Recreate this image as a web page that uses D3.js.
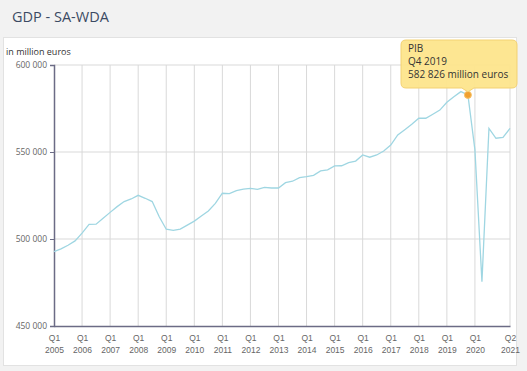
<!DOCTYPE html>
<html><head><meta charset="utf-8">
<script src="https://cdn.jsdelivr.net/npm/d3@7"></script>
<style>
html,body{margin:0;padding:0;background:#f2f2f2;}
svg{display:block;font-family:"Open Sans",sans-serif;}
</style></head>
<body><svg id="c" width="527" height="371"></svg>
<script>
const title = "GDP - SA-WDA";
const unitLabel = "in million euros";
const seriesName = "PIB";
const years = d3.range(2005, 2022);
const quarters = ["Q1","Q2","Q3","Q4"];
const gdp = [
  492700, 494300, 496400, 498900,
  503400, 508400, 508500, 511900,
  515300, 518600, 521500, 523000,
  525100, 523400, 521500, 512800,
  505600, 505000, 505700, 508000,
  510300, 513200, 516100, 520500,
  526300, 526100, 527800, 528700,
  529100, 528500, 529700, 529300,
  529300, 532400, 533200, 535300,
  535800, 536600, 539100, 539700,
  542000, 542100, 543900, 544800,
  548300, 547000, 548300, 550600,
  554000, 559800, 562800, 565900,
  569400, 569400, 571700, 574100,
  578600, 581800, 584700, 582826,
  551200, 475500, 563600, 557900,
  558400, 563600
];
const yTicks = [450000, 500000, 550000, 600000];
const highlightIndex = 59;

const periods = [];
years.forEach(y => quarters.forEach(q => periods.push({q, y})));
const data = gdp.map((v, i) => ({i, v, q: periods[i].q, y: periods[i].y}));
const xTickIdx = d3.range(0, 61, 4).concat([gdp.length - 1]);

const svg = d3.select("#c");
// header & panel
svg.append("rect").attr("x",0).attr("y",0).attr("width",527).attr("height",371).attr("fill","#f2f2f2");
svg.append("text").attr("x",12).attr("y",22).attr("font-size",14.5).attr("fill","#3b4a63").text(title);
svg.append("rect").attr("x",3.5).attr("y",37.5).attr("width",513).attr("height",328)
  .attr("fill","#fff").attr("stroke","#e2e2e2");

const x = d3.scaleLinear().domain([0, gdp.length - 1]).range([54, 510]);
const y = d3.scaleLinear().domain([450000, 600000]).range([326, 65]);
const fmt = v => d3.format(",")(v).replace(/,/g, " ");

svg.append("text").attr("x",6).attr("y",55).attr("font-size",9).attr("fill","#333").text(unitLabel);

// grid
svg.append("g").selectAll("line").data(yTicks.slice(1)).join("line")
  .attr("x1",54).attr("x2",510).attr("y1",d=>y(d)).attr("y2",d=>y(d))
  .attr("stroke","#d9d9d9");
svg.append("g").selectAll("line").data(xTickIdx.slice(1)).join("line")
  .attr("x1",d=>x(d)).attr("x2",d=>x(d)).attr("y1",65).attr("y2",326)
  .attr("stroke","#d9d9d9");

// y axis
const ya = svg.append("g").attr("transform","translate(54,0)")
  .call(d3.axisLeft(y).tickValues(yTicks).tickFormat(fmt).tickSize(4));
ya.select(".domain").attr("stroke","#6b6b85").attr("stroke-width",1.5);
ya.selectAll(".tick line").attr("stroke","#6b6b85");
ya.selectAll("text").attr("font-size",8.5).attr("fill","#666").attr("font-family","Open Sans");

// x axis
const xa = svg.append("g").attr("transform","translate(0,326)")
  .call(d3.axisBottom(x).tickValues(xTickIdx).tickSize(0).tickFormat(""));
xa.select(".domain").attr("stroke","#6b6b85").attr("stroke-width",1.5);
const xt = xa.selectAll(".tick");
xt.append("text").attr("y",15).attr("font-size",8.5).attr("fill","#666").attr("text-anchor","middle")
  .text(d => periods[d].q);
xt.append("text").attr("y",27).attr("font-size",8.5).attr("fill","#666").attr("text-anchor","middle")
  .text(d => periods[d].y);

// line
svg.append("path").datum(data)
  .attr("d", d3.line().x(d=>x(d.i)).y(d=>y(d.v)))
  .attr("fill","none").attr("stroke","#9fd6e2").attr("stroke-width",1.3);

// highlight point
const hp = data[highlightIndex];
svg.append("circle").attr("cx",x(hp.i)).attr("cy",y(hp.v)).attr("r",3.5)
  .attr("fill","#f0a030").attr("stroke","#f7c36a").attr("stroke-width",1);

// tooltip
const px = x(hp.i), py = y(hp.v);
const bx = 401, by = 40, bw = 116, bh = 48, r = 5;
const tip = d3.path();
tip.moveTo(bx + r, by);
tip.lineTo(bx + bw - r, by); tip.quadraticCurveTo(bx+bw, by, bx+bw, by+r);
tip.lineTo(bx + bw, by + bh - r); tip.quadraticCurveTo(bx+bw, by+bh, bx+bw-r, by+bh);
tip.lineTo(px + 6, by + bh); tip.lineTo(px, py - 3); tip.lineTo(px - 6, by + bh);
tip.lineTo(bx + r, by + bh); tip.quadraticCurveTo(bx, by+bh, bx, by+bh-r);
tip.lineTo(bx, by + r); tip.quadraticCurveTo(bx, by, bx+r, by);
tip.closePath();
svg.append("path").attr("d", tip.toString()).attr("fill","#fde58c").attr("fill-opacity",0.95)
  .attr("stroke","#f3d173").attr("stroke-width",1);
const tl = [seriesName, hp.q + " " + hp.y, fmt(hp.v) + " million euros"];
svg.append("g").selectAll("text").data(tl).join("text")
  .attr("x",408).attr("y",(d,i)=>52 + i*13).attr("font-size",10).attr("fill","#333").text(d=>d);
</script></body></html>
